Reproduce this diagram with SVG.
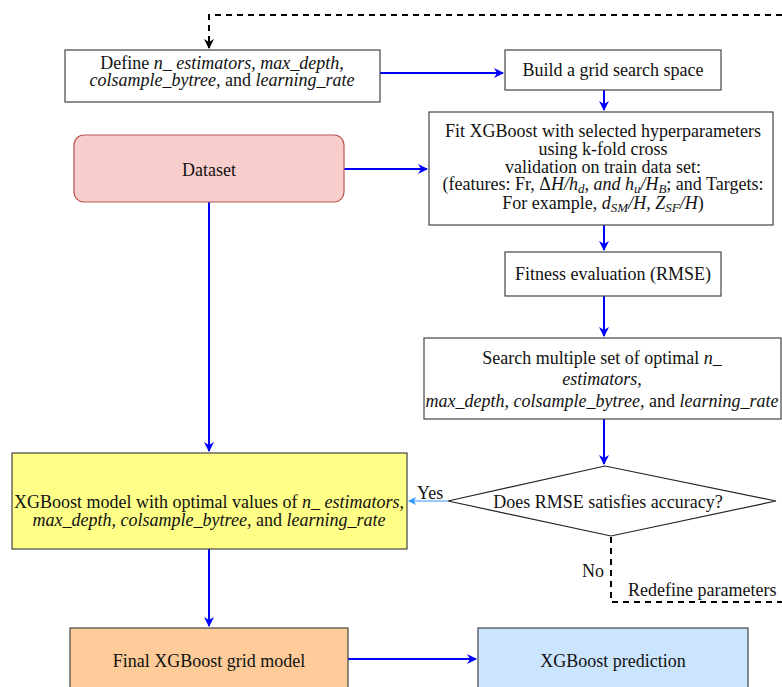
<svg xmlns="http://www.w3.org/2000/svg" width="782" height="687" viewBox="0 0 782 687" font-family="'Liberation Serif','DejaVu Serif','Times New Roman',serif">
<defs>
<style>
text{font-family:"Liberation Serif","DejaVu Serif","Times New Roman",serif;font-size:18px;fill:#111;}
.i{font-style:italic;}
.s{font-size:13px;}
.box{stroke:#444;stroke-width:1.2;}
.b{stroke:#0000ff;stroke-width:2;fill:none;}
.d{stroke:#000;stroke-width:2;fill:none;stroke-dasharray:6,5;}
</style>
<marker id="ab" markerWidth="10" markerHeight="10" refX="9" refY="5" orient="auto" markerUnits="userSpaceOnUse">
<path d="M0,0 L10,5 L0,10 L3,5 Z" fill="#0000ff"/>
</marker>
<marker id="ak" markerWidth="10" markerHeight="10" refX="9" refY="5" orient="auto" markerUnits="userSpaceOnUse">
<path d="M0,0 L10,5 L0,10 L3,5 Z" fill="#000"/>
</marker>
<marker id="al" markerWidth="8" markerHeight="8" refX="7" refY="4" orient="auto" markerUnits="userSpaceOnUse">
<path d="M0,0 L8,4 L0,8 L2,4 Z" fill="#3399ff"/>
</marker>
</defs>
<rect width="782" height="687" fill="#fff"/>

<g id="connectors">
<path class="d" d="M782,15 H209 V48" marker-end="url(#ak)"/>
<path class="b" d="M380,73 H503" marker-end="url(#ab)"/>
<path class="b" d="M604,90 V110" marker-end="url(#ab)"/>
<path class="b" d="M344,169 H427" marker-end="url(#ab)"/>
<path class="b" d="M604,225 V250" marker-end="url(#ab)"/>
<path class="b" d="M604,296 V336" marker-end="url(#ab)"/>
<path class="b" d="M604,419 V464" marker-end="url(#ab)"/>
<path d="M448,501 H409" stroke="#3399ff" stroke-width="1.2" fill="none" marker-end="url(#al)"/>
<path class="b" d="M209,202 V451" marker-end="url(#ab)"/>
<path class="b" d="M209,549 V626" marker-end="url(#ab)"/>
<path class="b" d="M348,659 H476" marker-end="url(#ab)"/>
<path class="d" d="M611,537 V602 H782"/>
<text x="417" y="499">Yes</text>
<text x="582" y="577">No</text>
<text x="628" y="596">Redefine parameters</text>
</g>

<g id="define">
<rect class="box" x="65" y="50" width="315" height="52" fill="#fff"/>
<text x="222" y="69" text-anchor="middle">Define <tspan class="i">n_ estimators, max_depth,</tspan></text>
<text x="222" y="86" text-anchor="middle"><tspan class="i">colsample_bytree,</tspan> and <tspan class="i">learning_rate</tspan></text>
</g>

<g id="build">
<rect class="box" x="505" y="50" width="216" height="40" fill="#fff"/>
<text x="613" y="76" text-anchor="middle">Build a grid search space</text>
</g>

<g id="dataset">
<rect x="74" y="135" width="270" height="67" rx="10" fill="#f8cecc" stroke="#b85450" stroke-width="1.2"/>
<text x="209" y="176" text-anchor="middle">Dataset</text>
</g>

<g id="fit">
<rect class="box" x="429" y="112" width="344" height="113" fill="#fff"/>
<text x="603" y="137" text-anchor="middle">Fit XGBoost with selected hyperparameters</text>
<text x="603" y="155" text-anchor="middle">using k-fold cross</text>
<text x="603" y="173" text-anchor="middle">validation on train data set:</text>
<text x="603" y="190" text-anchor="middle">(features: Fr, Δ<tspan class="i">H/h<tspan class="s" dy="3">d</tspan><tspan dy="-3">, and h</tspan><tspan class="s" dy="3">u</tspan><tspan dy="-3">/H</tspan><tspan class="s" dy="3">B</tspan></tspan><tspan dy="-3">; and Targets:</tspan></text>
<text x="603" y="209" text-anchor="middle">For example, <tspan class="i">d<tspan class="s" dy="3">SM</tspan><tspan dy="-3">/H, Z</tspan><tspan class="s" dy="3">SF</tspan><tspan dy="-3">/H</tspan></tspan>)</text>
</g>

<g id="fitness">
<rect class="box" x="505" y="252" width="216" height="44" fill="#fff"/>
<text x="613" y="280" text-anchor="middle">Fitness evaluation (RMSE)</text>
</g>

<g id="search">
<rect class="box" x="424" y="338" width="357" height="81" fill="#fff"/>
<text x="602" y="364" text-anchor="middle">Search multiple set of optimal <tspan class="i">n_</tspan></text>
<text x="602" y="385" text-anchor="middle" class="i">estimators,</text>
<text x="602" y="407" text-anchor="middle"><tspan class="i">max_depth, colsample_bytree,</tspan> and <tspan class="i">learning_rate</tspan></text>
</g>

<g id="decision">
<polygon points="448,501 605,466 776,501 611,536" fill="#fff" stroke="#222" stroke-width="1.2"/>
<text x="608" y="508" text-anchor="middle">Does RMSE satisfies accuracy?</text>
</g>

<g id="optimal">
<rect class="box" x="12" y="453" width="395" height="96" fill="#ffff88"/>
<text x="209" y="508" text-anchor="middle">XGBoost model with optimal values of <tspan class="i">n_ estimators,</tspan></text>
<text x="209" y="526" text-anchor="middle"><tspan class="i">max_depth, colsample_bytree,</tspan> and <tspan class="i">learning_rate</tspan></text>
</g>

<g id="final">
<rect class="box" x="70" y="628" width="278" height="70" fill="#ffcc99"/>
<text x="209" y="667" text-anchor="middle">Final XGBoost grid model</text>
</g>

<g id="prediction">
<rect class="box" x="478" y="628" width="270" height="70" fill="#cce5ff"/>
<text x="613" y="667" text-anchor="middle">XGBoost prediction</text>
</g>
</svg>
